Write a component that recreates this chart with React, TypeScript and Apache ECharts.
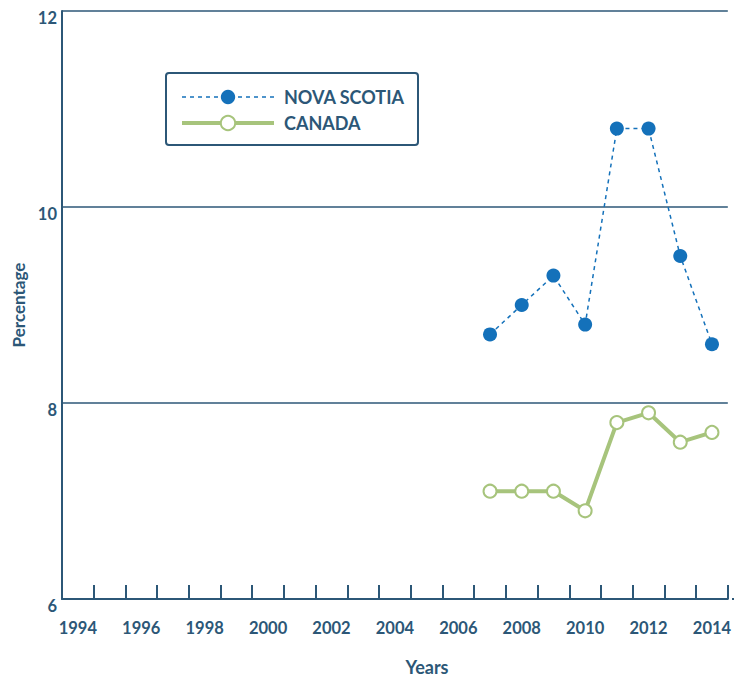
import React, { useEffect, useRef } from "react";
import * as echarts from "echarts";

const years = [
  "1994", "1995", "1996", "1997", "1998", "1999", "2000", "2001", "2002", "2003", "2004",
  "2005", "2006", "2007", "2008", "2009", "2010", "2011", "2012", "2013", "2014",
];
const novaScotia = [
  null, null, null, null, null, null, null, null, null, null, null, null, null,
  8.7, 9.0, 9.3, 8.8, 10.8, 10.8, 9.5, 8.6,
];
const canada = [
  null, null, null, null, null, null, null, null, null, null, null, null, null,
  7.1, 7.1, 7.1, 6.9, 7.8, 7.9, 7.6, 7.7,
];
const seriesNames = ["NOVA SCOTIA", "CANADA"];

const DARK = "#2c5777";
const BLUE = "#1471ba";
const GREEN = "#a7c47c";
const FONT = "Lato, 'Open Sans', sans-serif";

export default function App() {
  const ref = useRef<HTMLDivElement>(null);
  useEffect(() => {
    const chart = echarts.init(ref.current!, null, { renderer: "svg", width: 734, height: 677 });
    chart.setOption({
      animation: false,
      textStyle: { fontFamily: FONT },
      grid: { left: 62, right: 2, top: 11, bottom: 78 },
      legend: {
        orient: "vertical",
        left: 175,
        top: 83,
        itemWidth: 92,
        itemHeight: 18,
        itemGap: 8,
        data: [
          { name: seriesNames[0], lineStyle: { width: 1.5, type: [4, 4], color: BLUE } },
          { name: seriesNames[1], lineStyle: { width: 4, color: GREEN } },
        ],
        textStyle: {
          color: DARK,
          fontSize: 18,
          fontWeight: "bold",
          fontFamily: FONT,
          padding: [0, 0, 0, 5],
        },
      },
      graphic: [
        {
          type: "rect",
          shape: { x: 166, y: 73, width: 252, height: 72, r: 3 },
          style: { fill: "none", stroke: DARK, lineWidth: 2 },
          z: 0,
        },
        {
          type: "line",
          shape: { x1: 732, y1: 599, x2: 734, y2: 599 },
          style: { stroke: DARK, lineWidth: 2 },
        },
        {
          type: "text",
          x: 427,
          y: 676,
          style: {
            text: "Years",
            fill: DARK,
            font: `bold 18px ${FONT}`,
            textAlign: "center",
            textVerticalAlign: "bottom",
          },
        },
      ],
      xAxis: {
        type: "category",
        data: years,
        boundaryGap: true,
        axisLine: { lineStyle: { color: DARK, width: 2 } },
        axisTick: {
          show: true,
          inside: true,
          length: 14,
          interval: 0,
          lineStyle: { color: DARK, width: 2 },
        },
        axisLabel: {
          interval: 1,
          color: DARK,
          fontSize: 16.5,
          fontWeight: "bold",
          margin: 20,
          fontFamily: FONT,
        },
        splitLine: { show: false },
      },
      yAxis: {
        type: "value",
        min: 6,
        max: 12,
        interval: 2,
        name: "Percentage",
        nameLocation: "middle",
        nameGap: 31,
        nameTextStyle: { color: DARK, fontSize: 17, fontWeight: "bold", fontFamily: FONT },
        axisLine: { show: true, lineStyle: { color: DARK, width: 2 } },
        axisTick: { show: false },
        axisLabel: {
          color: DARK,
          fontSize: 16.5,
          fontWeight: "bold",
          margin: 5,
          verticalAlign: "top",
          lineHeight: 14,
          fontFamily: FONT,
        },
        splitLine: { show: true, lineStyle: { color: DARK, width: 1.5 } },
      },
      series: [
        {
          name: seriesNames[0],
          type: "line",
          data: novaScotia,
          symbol: "circle",
          symbolSize: 14,
          itemStyle: { color: BLUE },
          lineStyle: { color: BLUE, width: 1.5, type: [4, 4] },
          z: 3,
        },
        {
          name: seriesNames[1],
          type: "line",
          data: canada,
          symbol: "circle",
          symbolSize: 13,
          itemStyle: { color: "#ffffff", borderColor: GREEN, borderWidth: 2 },
          lineStyle: { color: GREEN, width: 4 },
          z: 2,
        },
      ],
    });
    return () => chart.dispose();
  }, []);
  return (
    <div
      ref={ref}
      style={{ position: "absolute", left: 0, top: 0, width: 734, height: 677, background: "#fff" }}
    />
  );
}
